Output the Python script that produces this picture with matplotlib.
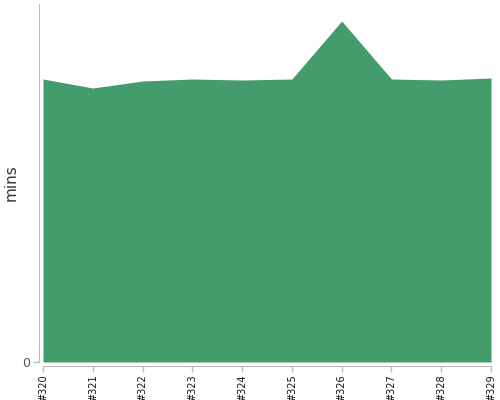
import matplotlib

matplotlib.use("Agg")
import matplotlib.pyplot as plt

builds = ["#320", "#321", "#322", "#323", "#324", "#325", "#326", "#327", "#328", "#329"]
durations = [28.3, 27.4, 28.1, 28.3, 28.2, 28.3, 34.1, 28.3, 28.2, 28.4]
y_ticks = [0]

fig = plt.figure(figsize=(5, 4), dpi=100)
# axes box in pixels: x 43..491, y 4..362 (from top)
ax = fig.add_axes([43 / 500, (400 - 362) / 400, (491 - 43) / 500, (362 - 4) / 400])

x = list(range(len(builds)))
ax.fill_between(x, durations, 0, color="#449c6c", linewidth=0)
ax.set_xlim(0, len(builds) - 1)
ax.set_ylim(0, 35.8)

for side in ("top", "right"):
    ax.spines[side].set_visible(False)
for side in ("left", "bottom"):
    ax.spines[side].set_color("#bbbbbb")
    ax.spines[side].set_position(("outward", 3))
ax.tick_params(axis="both", colors="#bbbbbb", length=4, width=1)
ax.tick_params(axis="x", labelcolor="#111111", pad=2, labelsize=7)
ax.tick_params(axis="y", labelcolor="#555555", pad=2, labelsize=9)

ax.set_xticks(x)
ax.set_xticklabels(builds, fontsize=7, rotation=90)
ax.set_yticks(y_ticks)
ax.set_yticklabels([str(v) for v in y_ticks], fontsize=9)
ax.set_ylabel("mins", fontsize=11, color="#333333")
ax.yaxis.set_label_coords(-0.054, 0.5)

fig.savefig("out.png", dpi=100)
